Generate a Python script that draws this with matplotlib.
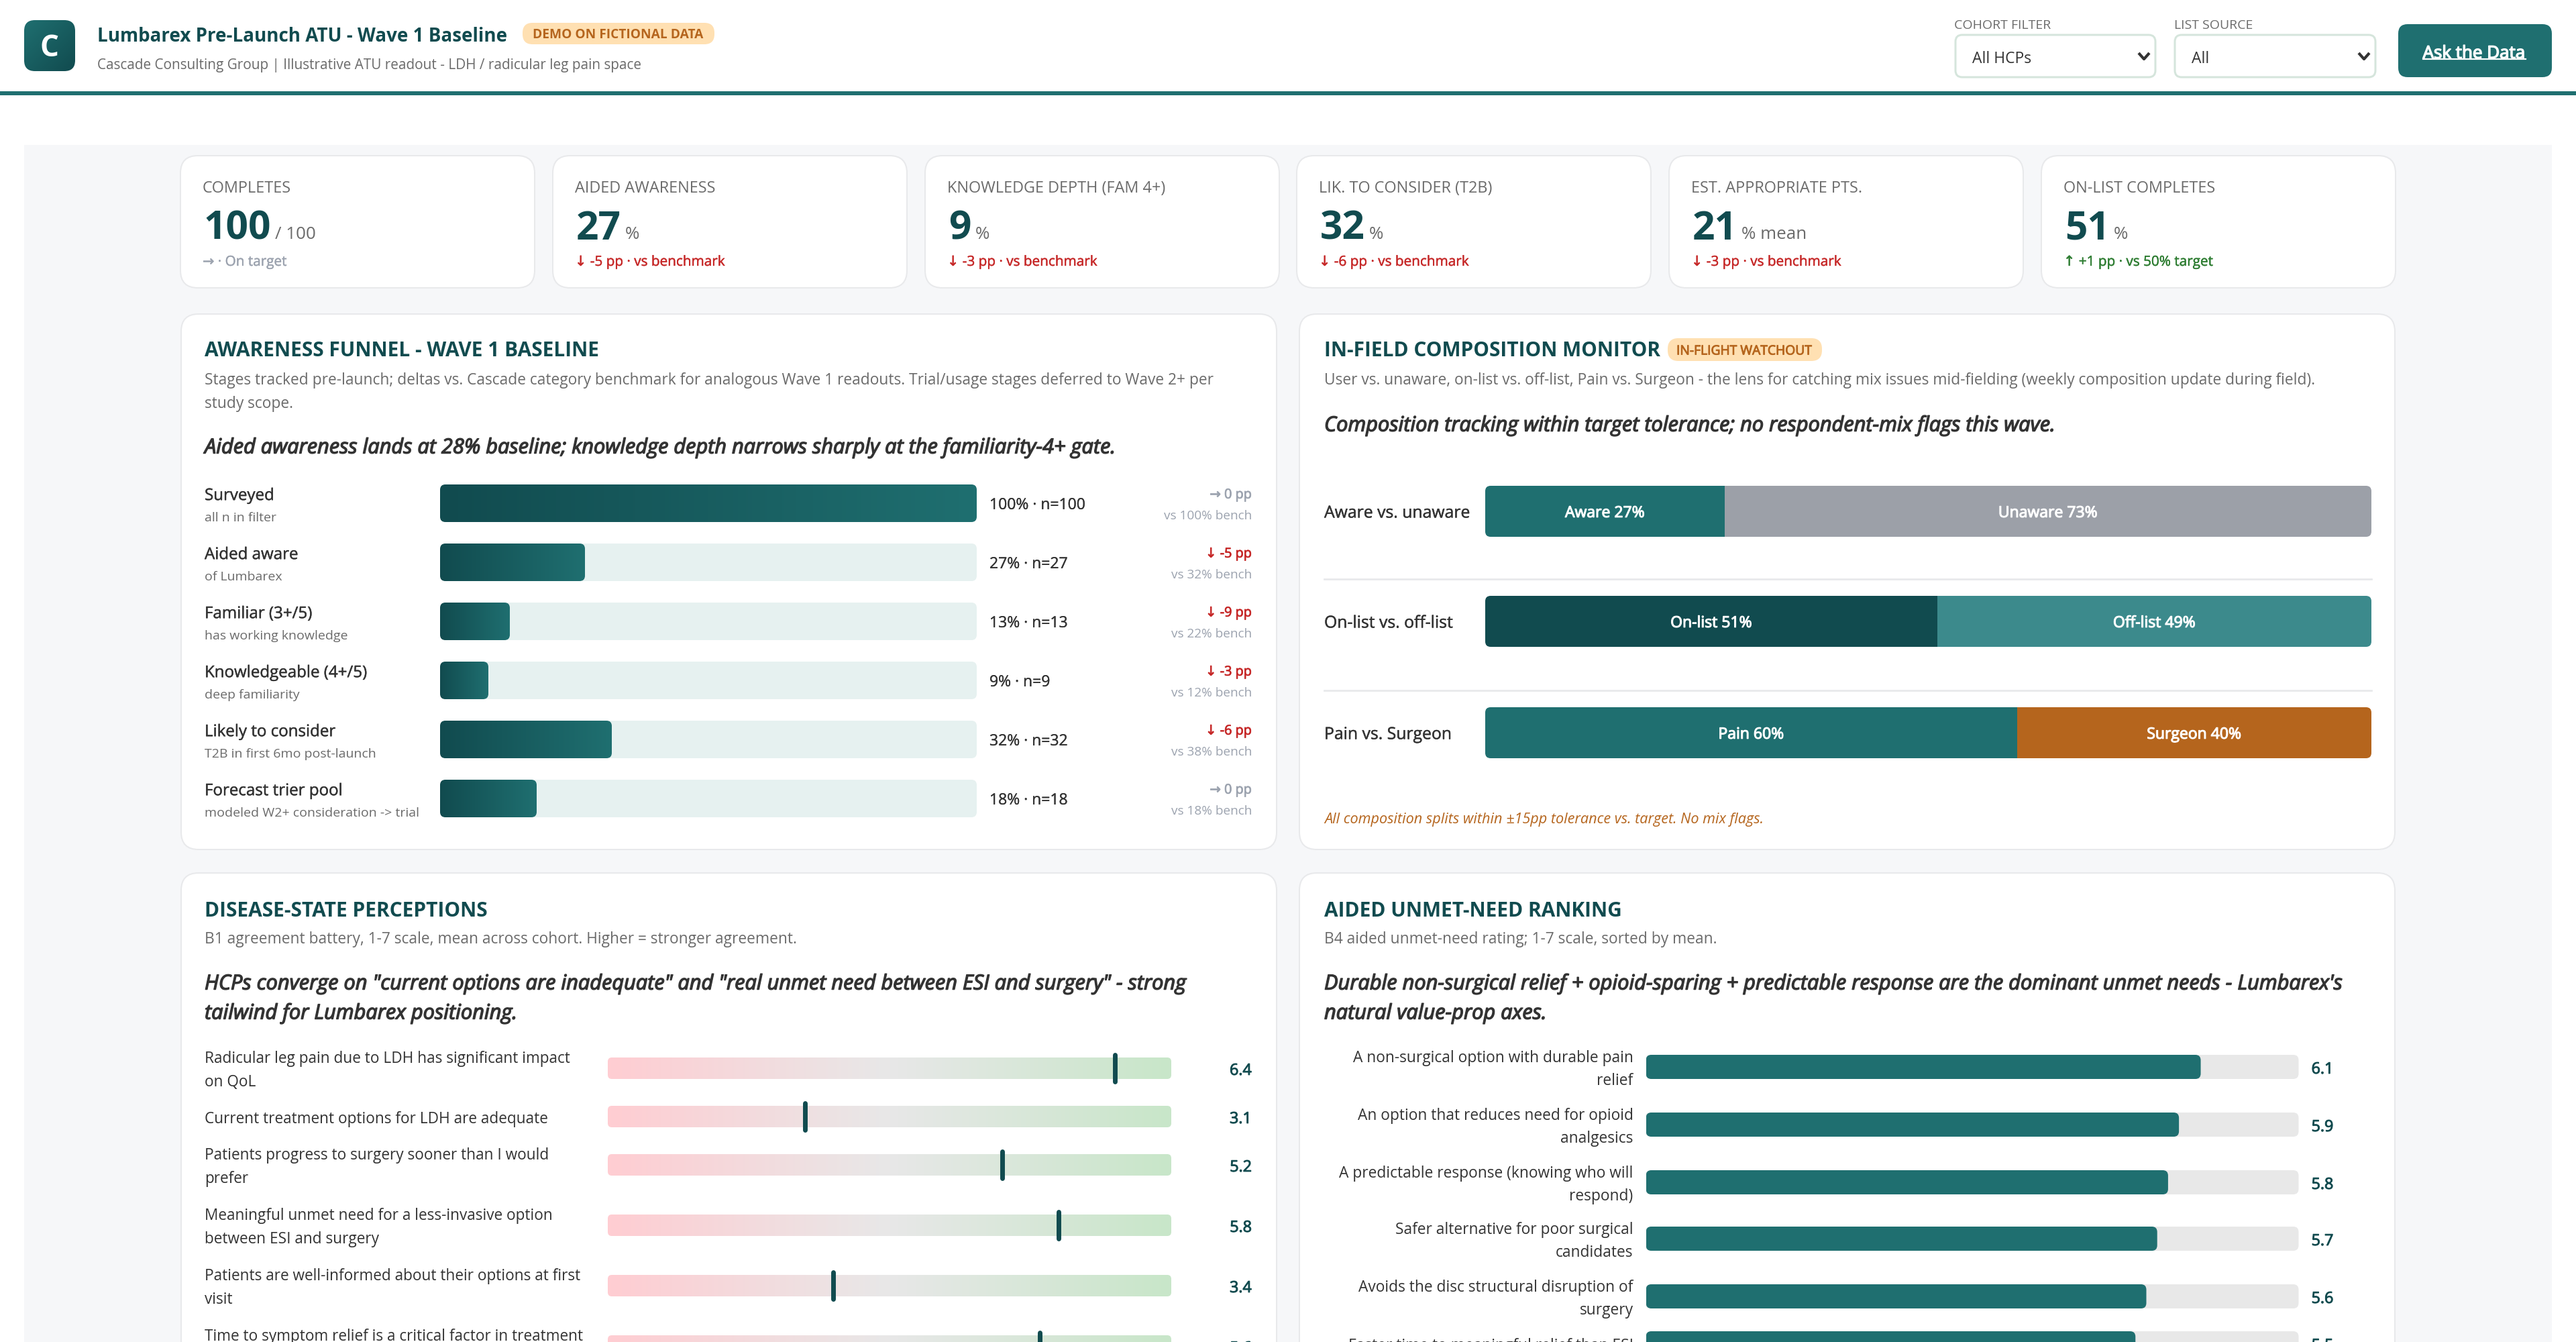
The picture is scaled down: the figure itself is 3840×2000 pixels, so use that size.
import numpy as np
import matplotlib
matplotlib.use('Agg')
import matplotlib.pyplot as plt
import matplotlib.patheffects as pe
from matplotlib.patches import FancyBboxPatch, Rectangle
from matplotlib.colors import LinearSegmentedColormap

plt.rcParams['font.family'] = ['Open Sans', 'DejaVu Sans']

W, H = 3840, 2000
TEAL = '#1f6f70'
DARK = '#114b4f'
ORANGE = '#b5651d'
RED = '#c62828'
GREEN = '#2e7d32'
TEXT = '#333333'
MUTED = '#6b6b6b'
LIGHT = '#9ca3af'

# KPI strip
kpi_labels = ['COMPLETES', 'AIDED AWARENESS', 'KNOWLEDGE DEPTH (FAM 4+)', 'LIK. TO CONSIDER (T2B)',
              'EST. APPROPRIATE PTS.', 'ON-LIST COMPLETES']
kpi_values = ['100', '27', '9', '32', '21', '51']
kpi_units = ['/ 100', '%', '%', '%', '% mean', '%']
kpi_deltas = ['→ · On target', '↓ -5 pp · vs benchmark', '↓ -3 pp · vs benchmark', '↓ -6 pp · vs benchmark',
              '↓ -3 pp · vs benchmark', '↑ +1 pp · vs 50% target']
kpi_colors = [LIGHT, RED, RED, RED, RED, GREEN]

# awareness funnel
funnel_names = ['Surveyed', 'Aided aware', 'Familiar (3+/5)', 'Knowledgeable (4+/5)', 'Likely to consider',
                'Forecast trier pool']
funnel_subs = ['all n in filter', 'of Lumbarex', 'has working knowledge', 'deep familiarity',
               'T2B in first 6mo post-launch', 'modeled W2+ consideration -> trial']
funnel_pct = [100, 27, 13, 9, 32, 18]
funnel_n = [100, 27, 13, 9, 32, 18]
funnel_delta = [0, -5, -9, -3, -6, 0]
funnel_bench = [100, 32, 22, 12, 38, 18]

# composition monitor
comp_names = ['Aware vs. unaware', 'On-list vs. off-list', 'Pain vs. Surgeon']
comp_left_names = ['Aware', 'On-list', 'Pain']
comp_right_names = ['Unaware', 'Off-list', 'Surgeon']
comp_left = [27, 51, 60]
comp_right = [73, 49, 40]
comp_left_colors = [TEAL, DARK, TEAL]
comp_right_colors = ['#9ca0a8', '#3c8a8c', ORANGE]

# disease-state perceptions, last label runs off the page so its second line is left empty
perc_labels = ['Radicular leg pain due to LDH has significant impact\non QoL',
               'Current treatment options for LDH are adequate',
               'Patients progress to surgery sooner than I would\nprefer',
               'Meaningful unmet need for a less-invasive option\nbetween ESI and surgery',
               'Patients are well-informed about their options at first\nvisit',
               'Time to symptom relief is a critical factor in treatment\n']
perc_values = [6.4, 3.1, 5.2, 5.8, 3.4, 5.6]

# unmet need ranking
need_labels = ['A non-surgical option with durable pain\nrelief',
               'An option that reduces need for opioid\nanalgesics',
               'A predictable response (knowing who will\nrespond)',
               'Safer alternative for poor surgical\ncandidates',
               'Avoids the disc structural disruption of\nsurgery',
               'Faster time to meaningful relief than ESI']
need_values = [6.1, 5.9, 5.8, 5.7, 5.6, 5.5]

fig = plt.figure(figsize=(W / 100, H / 100), dpi=100, facecolor='white')
renderer = fig.canvas.get_renderer()

# full page axes in pixels, for the cards and the text
bg = fig.add_axes([0, 0, 1, 1])
bg.set_xlim(0, W)
bg.set_ylim(H, 0)
bg.axis('off')


def measure(s, size, weight='normal', style='normal'):
    t = bg.text(0, 0, s, fontsize=size * 0.72, fontweight=weight, fontstyle=style)
    w = t.get_window_extent(renderer).width
    t.remove()
    return w


def fit(s, width, weight='normal', style='normal'):
    # font size in pixels that makes s as wide as it is in the screenshot
    return 30 * width / measure(s, 30, weight, style)


def put(x, y, s, size, color=TEXT, weight='normal', style='normal', ha='left', ax=None, semi=0):
    # y is the visual middle of the line, semi thickens regular faces to a medium look
    ax = ax or bg
    t = ax.text(x, y + 0.36 * size + 0.5, s, fontsize=size * 0.72, color=color, fontweight=weight,
                fontstyle=style, ha=ha, va='baseline')
    if semi:
        t.set_path_effects([pe.withStroke(linewidth=semi, foreground=color)])
    return t


def card(x0, y0, x1, y1, r, fc='white', ec='#e8e9eb', lw=2.0, ax=None):
    p = FancyBboxPatch((x0, y0), x1 - x0, y1 - y0, boxstyle=f'round,pad=0,rounding_size={r}',
                       fc=fc, ec=ec, lw=lw * 0.72)
    (ax or bg).add_patch(p)
    return p


def chart_axes(x0, x1, lo, hi):
    # x is the value scale between the track ends, y stays in page pixels
    ax = fig.add_axes([x0 / W, 0, (x1 - x0) / W, 1], zorder=2)
    ax.set_xlim(lo, hi)
    ax.set_ylim(H, 0)
    ax.axis('off')
    ax.patch.set_alpha(0)
    return ax


def round_bar(ax, a, b, yc, h, r, **kw):
    # rounded bar with a radius in pixels on an axes with a value scale
    xlim = ax.get_xlim()
    box = ax.get_position()
    per_x = (xlim[1] - xlim[0]) / (box.width * W)
    kw.setdefault('lw', 0)
    p = FancyBboxPatch((a, yc - h / 2), b - a, h, boxstyle=f'round,pad=0,rounding_size={r * per_x}',
                       mutation_aspect=1 / per_x, **kw)
    ax.add_patch(p)
    return p


def gradient_bar(ax, a, b, yc, h, r, cmap):
    clip = round_bar(ax, a, b, yc, h, r, fc='none')
    im = ax.imshow(np.linspace(0, 1, 256)[None, :], extent=[a, b, yc + h / 2, yc - h / 2], aspect='auto',
                   cmap=cmap, interpolation='bilinear', zorder=2)
    im.set_clip_path(clip)


# page chrome
bg.add_patch(Rectangle((36, 216), 3768, H - 216, fc='#f6f7f9', lw=0))
bg.add_patch(Rectangle((0, 136), W, 6, fc=TEAL, lw=0))

# logo
logo_clip = card(36, 30, 112, 106, 16, fc='none', ec='none', lw=0)
yy, xx = np.mgrid[0:1:64j, 0:1:64j]
logo_cmap = LinearSegmentedColormap.from_list('logo', [TEAL, DARK])
logo = bg.imshow((xx + yy) / 2, extent=[36, 112, 106, 30], cmap=logo_cmap, aspect='auto', interpolation='bilinear')
logo.set_clip_path(logo_clip)
bg.set_xlim(0, W)
bg.set_ylim(H, 0)
put(74, 68, 'C', 44, color='white', weight='bold', ha='center')

# header text
title = 'Lumbarex Pre-Launch ATU - Wave 1 Baseline'
put(145, 51, title, fit(title, 612, 'bold'), color=DARK, weight='bold')
sub = 'Cascade Consulting Group | Illustrative ATU readout - LDH / radicular leg pain space'
put(145, 95, sub, fit(sub, 812), color=MUTED)
card(779, 34, 1065, 66, 15, fc='#ffe0b2', ec='none', lw=0)
put(794, 50, 'DEMO ON FICTIONAL DATA', fit('DEMO ON FICTIONAL DATA', 255, 'bold'), color=ORANGE, weight='bold')

# filters and button
small = fit('COHORT FILTER', 144)
put(2913, 35, 'COHORT FILTER', small, color=MUTED)
put(3241, 35, 'LIST SOURCE', small, color=MUTED)
select = fit('All HCPs', 88)
for x0, x1, s in [(2915, 3213, 'All HCPs'), (3242, 3541, 'All')]:
    card(x0, 52, x1, 115, 10, ec='#d5e5dc', lw=3)
    put(x0 + 25, 85, s, select, color=TEXT)
    bg.plot([x1 - 25, x1 - 17, x1 - 9], [79, 88, 79], color=TEXT, lw=3, solid_capstyle='butt')
card(3575, 36, 3804, 115, 14, fc=TEAL, ec='none', lw=0)
ask_size = fit('Ask the Data', 153)
put(3688, 77, 'Ask the Data', ask_size, color='white', ha='center', semi=1.0)
bg.plot([3612, 3765], [88, 88], color='white', lw=1.6)

# KPI cards
kpi_x = [269, 824, 1379, 1933, 2488, 3043]
label_size = fit('AIDED AWARENESS', 210)
delta_size = fit('↓ -5 pp · vs benchmark', 224)
value_size = fit('100', 101, 'bold')
unit_size = fit('/ 100', 61)
for i, x in enumerate(kpi_x):
    card(x, 232, x + 528, 429, 26)
    put(x + 33, 278, kpi_labels[i], label_size, color=MUTED)
    put(x + 35, 335, kpi_values[i], value_size, color=DARK, weight='bold')
    unit_x = x + 35 + measure(kpi_values[i], value_size, 'bold') + 6
    bg.text(unit_x, 356, kpi_units[i], fontsize=unit_size * 0.72, color=MUTED, va='baseline')
    put(x + 33, 388, kpi_deltas[i], delta_size, color=kpi_colors[i], semi=0.3)

# panels
left_x, right_x = 305, 1974
card(270, 468, 1903, 1266, 26)
card(1937, 468, 3570, 1266, 26)
card(270, 1301, 1903, 2100, 26)
card(1937, 1301, 3570, 2100, 26)

head = fit('AWARENESS FUNNEL - WAVE 1 BASELINE', 590, 'bold')
note = fit('B1 agreement battery, 1-7 scale, mean across cohort. Higher = stronger agreement.', 884)
call = fit('Aided awareness lands at 28% baseline; knowledge depth narrows sharply at the familiarity-4+ gate.',
           1359, 'normal', 'italic')


def panel_text(x, y_head, heading, y_notes, notes, y_calls, calls):
    put(x, y_head, heading, head, color=DARK, weight='bold')
    for y, s in zip(y_notes, notes):
        put(x, y, s, note, color=MUTED)
    for y, s in zip(y_calls, calls):
        put(x, y, s, call, color=TEXT, style='italic', semi=1.0)


panel_text(left_x, 520, 'AWARENESS FUNNEL - WAVE 1 BASELINE', [564, 599],
           ['Stages tracked pre-launch; deltas vs. Cascade category benchmark for analogous Wave 1 readouts. Trial/usage stages deferred to Wave 2+ per',
            'study scope.'],
           [664], ['Aided awareness lands at 28% baseline; knowledge depth narrows sharply at the familiarity-4+ gate.'])
panel_text(right_x, 520, 'IN-FIELD COMPOSITION MONITOR', [564],
           ['User vs. unaware, on-list vs. off-list, Pain vs. Surgeon - the lens for catching mix issues mid-fielding (weekly composition update during field).'],
           [631], ['Composition tracking within target tolerance; no respondent-mix flags this wave.'])
panel_text(left_x, 1355, 'DISEASE-STATE PERCEPTIONS', [1397],
           ['B1 agreement battery, 1-7 scale, mean across cohort. Higher = stronger agreement.'],
           [1463, 1507], ['HCPs converge on "current options are inadequate" and "real unmet need between ESI and surgery" - strong',
                          'tailwind for Lumbarex positioning.'])
panel_text(right_x, 1355, 'AIDED UNMET-NEED RANKING', [1397],
           ['B4 aided unmet-need rating; 1-7 scale, sorted by mean.'],
           [1463, 1507], ["Durable non-surgical relief + opioid-sparing + predictable response are the dominant unmet needs - Lumbarex's",
                          'natural value-prop axes.'])
card(2486, 504, 2716, 538, 16, fc='#ffe0b2', ec='none', lw=0)
put(2499, 521, 'IN-FLIGHT WATCHOUT', fit('IN-FLIGHT WATCHOUT', 202), color=ORANGE, semi=0.7)

# funnel
ax_funnel = chart_axes(656, 1456, 0, 100)
funnel_cmap = LinearSegmentedColormap.from_list('funnel', [DARK, TEAL])
name_size = fit('Knowledgeable (4+/5)', 243)
fsub_size = fit('modeled W2+ consideration -> trial', 319)
fval_size = fit('100% · n=100', 143)
fdelta_size = fit('↓ -5 pp', 69)
fbench_size = fit('vs 100% bench', 132)
for i, pct in enumerate(funnel_pct):
    yc = 750 + 88 * i
    round_bar(ax_funnel, 0, 100, yc, 56, 8, fc='#e6f1f0')
    gradient_bar(ax_funnel, 0, pct, yc, 56, 8, funnel_cmap)
    put(left_x, yc - 14, funnel_names[i], name_size, semi=0.3)
    put(left_x, yc + 19, funnel_subs[i], fsub_size, color=MUTED)
    put(1475, yc, f'{pct}% · n={funnel_n[i]}', fval_size, semi=0.2)
    d = funnel_delta[i]
    if d < 0:
        put(1866, yc - 15, f'↓ {d} pp', fdelta_size, color=RED, ha='right', semi=0.6)
    else:
        put(1866, yc - 15, f'→ {d} pp', fdelta_size, color=LIGHT, ha='right', semi=0.6)
    put(1866, yc + 17, f'vs {funnel_bench[i]}% bench', fbench_size, color=LIGHT, ha='right')

# composition
ax_comp = chart_axes(2214, 3535, 0, 100)
comp_y = [762, 926, 1092]
comp_size = fit('Aware vs. unaware', 218)
seg_size = fit('Unaware 73%', 148)
for i, yc in enumerate(comp_y):
    clip = round_bar(ax_comp, 0, 100, yc, 76, 8, fc='none')
    a = ax_comp.barh(yc, comp_left[i], height=76, color=comp_left_colors[i])[0]
    b = ax_comp.barh(yc, comp_right[i], left=comp_left[i], height=76, color=comp_right_colors[i])[0]
    a.set_clip_path(clip)
    b.set_clip_path(clip)
    put(right_x, yc, comp_names[i], comp_size, semi=0.3)
    put(comp_left[i] / 2, yc, f'{comp_left_names[i]} {comp_left[i]}%', seg_size, color='white',
        ha='center', ax=ax_comp, semi=0.8)
    put(comp_left[i] + comp_right[i] / 2, yc, f'{comp_right_names[i]} {comp_right[i]}%', seg_size, color='white',
        ha='center', ax=ax_comp, semi=0.8)
for y in [863, 1029]:
    bg.plot([right_x, 3535], [y, y], color='#e8e9eb', lw=2)
note2 = 'All composition splits within ±15pp tolerance vs. target. No mix flags.'
put(right_x, 1219, note2, fit(note2, 654, style='italic'), color=ORANGE, style='italic')

# perceptions
ax_perc = chart_axes(906, 1746, 1, 7)
perc_cmap = LinearSegmentedColormap.from_list('perc', ['#ffcdd2', '#e8e8e8', '#c8e6c9'])
perc_y = [1592, 1664, 1736, 1826, 1916, 2006]
perc_size = fit('Patients are well-informed about their options at first', 561)
pval_size = fit('6.4', 33)
for i, yc in enumerate(perc_y):
    gradient_bar(ax_perc, 1, 7, yc, 32, 6, perc_cmap)
    ax_perc.plot([perc_values[i], perc_values[i]], [yc - 20, yc + 20], color=DARK, lw=5, solid_capstyle='round',
                 zorder=3)
    lines = perc_labels[i].split('\n')
    for j, line in enumerate(lines):
        put(left_x, yc + 1 + (j - (len(lines) - 1) / 2) * 35, line, perc_size)
    put(1866, yc + 1, f'{perc_values[i]:.1f}', pval_size, color=DARK, ha='right', semi=0.7)

# unmet need
ax_need = chart_axes(2453.6, 3426.5, 1, 7)
need_y = [1590, 1676, 1762, 1846, 1932, 2002]
need_size = fit('A predictable response (knowing who will', 440)
for i, yc in enumerate(need_y):
    round_bar(ax_need, 1, 7, yc, 36, 8, fc='#e8e8e8')
    round_bar(ax_need, 1, need_values[i], yc, 36, 8, fc=TEAL)
    lines = need_labels[i].split('\n')
    for j, line in enumerate(lines):
        put(2434.5, yc + 1 + (j - (len(lines) - 1) / 2) * 34, line, need_size, ha='right')
    put(3445.6, yc + 1, f'{need_values[i]:.1f}', pval_size, color=DARK, semi=0.7)

fig.savefig('out.png', dpi=100, facecolor='white')
plt.close(fig)
